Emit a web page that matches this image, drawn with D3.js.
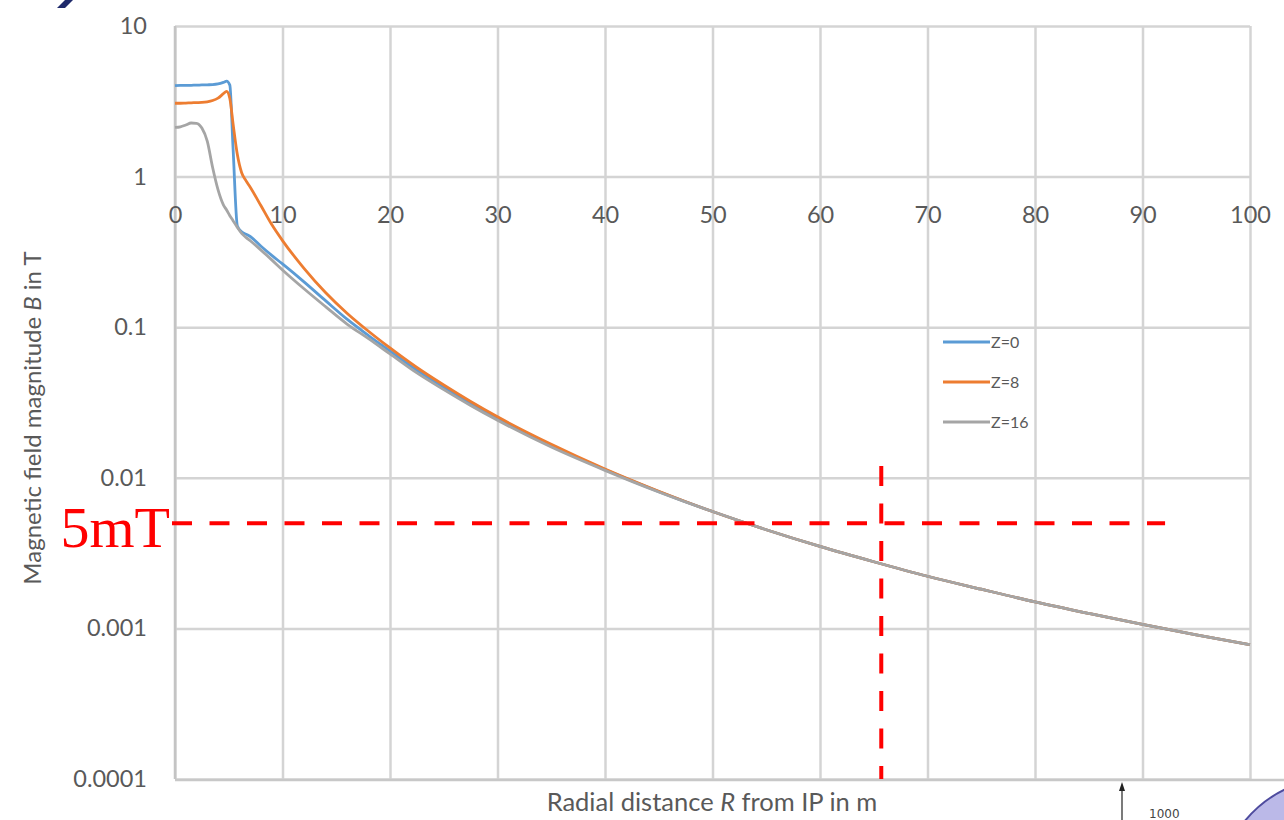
<!DOCTYPE html>
<html>
<head>
<meta charset="utf-8">
<script src="https://cdn.jsdelivr.net/npm/d3@7"></script>
<style>
  html, body { margin: 0; padding: 0; background: #ffffff; }
  svg { display: block; }
</style>
</head>
<body>
<svg id="chart" width="1284" height="820"></svg>
<script>
// Radial distance from the interaction point (m)
const radius = [0, 0.5, 1, 1.5, 2, 2.5, 3, 3.5, 4, 4.5, 4.8, 5.1, 5.4, 5.8, 6.2, 6.6, 7, 8, 9, 10,
  12, 14, 16, 18, 20, 22.5, 25, 27.5, 30, 35, 40, 45, 50, 55, 60, 65, 70, 75, 80, 85, 90, 95, 100];

// Field magnitude B (T) along the radius for three z positions
const bZ0 = [4.02, 4.03, 4.03, 4.04, 4.05, 4.06, 4.07, 4.08, 4.12, 4.22, 4.30, 4.05, 1.55, 0.47, 0.43, 0.415, 0.40, 0.345, 0.30, 0.263,
  0.200, 0.150, 0.113, 0.088, 0.0695, 0.0518, 0.0399, 0.0312, 0.0248, 0.0164, 0.01133, 0.00810,
  0.00597, 0.00452, 0.00350, 0.00277, 0.00222, 0.00182, 0.00150, 0.001257, 0.001062, 0.000906, 0.000780];
const bZ8 = [3.07, 3.07, 3.08, 3.09, 3.10, 3.11, 3.14, 3.20, 3.32, 3.55, 3.68, 3.30, 2.25, 1.40, 1.06, 0.94, 0.85, 0.64, 0.48, 0.376,
  0.246, 0.170, 0.1239, 0.0940, 0.0728, 0.0540, 0.0413, 0.0321, 0.0254, 0.0167, 0.01145, 0.00815,
  0.00597, 0.00452, 0.00350, 0.00277, 0.00222, 0.00182, 0.00150, 0.001257, 0.001062, 0.000906, 0.000780];
const bZ16 = [2.12, 2.14, 2.20, 2.27, 2.26, 2.10, 1.72, 1.15, 0.82, 0.65, 0.60, 0.55, 0.51, 0.46, 0.42, 0.395, 0.375, 0.325, 0.28, 0.240,
  0.180, 0.137, 0.105, 0.084, 0.0665, 0.0497, 0.0385, 0.0302, 0.0241, 0.0160, 0.01120, 0.00805,
  0.00597, 0.00452, 0.00350, 0.00277, 0.00222, 0.00182, 0.00150, 0.001257, 0.001062, 0.000906, 0.000780];

const seriesNames = ["Z=0", "Z=8", "Z=16"];
const seriesColors = ["#5b9bd5", "#ed7d31", "#a5a5a5"];

const xTicks = [0, 10, 20, 30, 40, 50, 60, 70, 80, 90, 100];
const yTicks = [10, 1, 0.1, 0.01, 0.001, 0.0001];
const yTickLabels = ["10", "1", "0.1", "0.01", "0.001", "0.0001"];

// 5 mT reference level and the marked radius
const limitB = 0.005;
const limitLabel = "5mT";
const markR = 65.7;
const markTopB = 0.012;
const limitEndR = 92.1;

const svg = d3.select("#chart");
const plotLeft = 175, plotRight = 1250, plotTop = 26, plotBottom = 779;
const sans = "Lato, 'Open Sans', sans-serif";

const x = d3.scaleLinear().domain([0, 100]).range([plotLeft, plotRight]);
const y = d3.scaleLog().domain([0.0001, 10]).range([plotBottom, plotTop]);

const gridColor = "#d4d4d4";

// horizontal gridlines + y tick labels
const gy = svg.append("g")
  .attr("transform", `translate(${plotLeft},0)`)
  .call(d3.axisLeft(y).tickValues(yTicks).tickSize(-(plotRight - plotLeft))
    .tickFormat((d, i) => yTickLabels[i]).tickPadding(28));
gy.select(".domain").remove();
gy.selectAll(".tick line").attr("stroke", gridColor).attr("stroke-width", 2.5);
gy.selectAll(".tick text").attr("fill", "#595959").attr("font-size", 23.5)
  .style("font-family", sans);

// vertical gridlines
const gx = svg.append("g")
  .attr("transform", `translate(0,${plotBottom})`)
  .call(d3.axisBottom(x).tickValues(xTicks).tickSize(-(plotBottom - plotTop)).tickFormat(""));
gx.select(".domain").remove();
gx.selectAll(".tick line").attr("stroke", gridColor).attr("stroke-width", 2.5);

// left axis line and bottom border
svg.append("line").attr("x1", plotLeft).attr("x2", plotLeft).attr("y1", plotTop).attr("y2", plotBottom)
  .attr("stroke", "#c4c4c4").attr("stroke-width", 2.5);
svg.append("line").attr("x1", plotLeft).attr("x2", 1284).attr("y1", plotBottom + 1).attr("y2", plotBottom + 1)
  .attr("stroke", "#c8c8c8").attr("stroke-width", 2.5);

// x tick labels sit under the B = 1 T line
const gxl = svg.append("g")
  .attr("transform", `translate(0,${y(1)})`)
  .call(d3.axisBottom(x).tickValues(xTicks).tickSize(0).tickFormat(d3.format("d")));
gxl.select(".domain").remove();
gxl.selectAll(".tick text").attr("y", 38).attr("dy", "0.35em")
  .attr("fill", "#595959").attr("font-size", 23.5).style("font-family", sans);

// curves (grey drawn last, on top)
const seriesValues = [bZ0, bZ8, bZ16];
const line = d3.line()
  .x(d => x(d[0]))
  .y(d => y(d[1]))
  .curve(d3.curveMonotoneX);

[0, 1, 2].forEach(k => {
  svg.append("path")
    .datum(radius.map((r, i) => [r, seriesValues[k][i]]))
    .attr("fill", "none")
    .attr("stroke", seriesColors[k])
    .attr("stroke-width", 2.8)
    .attr("stroke-linejoin", "round")
    .attr("d", line);
});

// legend
const legend = svg.append("g").attr("transform", "translate(943,342)");
seriesNames.forEach((name, i) => {
  const row = legend.append("g").attr("transform", `translate(0,${i * 40})`);
  row.append("line").attr("x1", 0).attr("x2", 47).attr("y1", 0).attr("y2", 0)
    .attr("stroke", seriesColors[i]).attr("stroke-width", 3);
  row.append("text").attr("x", 48).attr("y", 0).attr("dy", "0.36em")
    .attr("fill", "#595959").attr("font-size", 16).style("font-family", sans).text(name);
});

// axis titles
const yTitle = svg.append("text")
  .attr("transform", "translate(41,418) rotate(-90)")
  .attr("text-anchor", "middle")
  .attr("fill", "#595959").attr("font-size", 24).style("font-family", sans);
yTitle.append("tspan").text("Magnetic field magnitude ");
yTitle.append("tspan").attr("font-style", "italic").text("B");
yTitle.append("tspan").text(" in T");

const xTitle = svg.append("text")
  .attr("x", 712).attr("y", 811)
  .attr("text-anchor", "middle")
  .attr("fill", "#595959").attr("font-size", 25.5).style("font-family", sans);
xTitle.append("tspan").text("Radial distance ");
xTitle.append("tspan").attr("font-style", "italic").text("R");
xTitle.append("tspan").text(" from IP in m");

// 5 mT marker lines
svg.append("line")
  .attr("x1", x(0) - 3).attr("x2", x(limitEndR))
  .attr("y1", y(limitB)).attr("y2", y(limitB))
  .attr("stroke", "#ff0000").attr("stroke-width", 4)
  .attr("stroke-dasharray", "20,17.5");
svg.append("line")
  .attr("x1", x(markR)).attr("x2", x(markR))
  .attr("y1", y(markTopB)).attr("y2", y(0.0001))
  .attr("stroke", "#ff0000").attr("stroke-width", 4)
  .attr("stroke-dasharray", "20,17.5");

svg.append("text")
  .attr("x", x(0) - 5).attr("y", y(limitB) + 24)
  .attr("text-anchor", "end")
  .attr("fill", "#ff0000")
  .style("font-family", "'Liberation Serif', 'DejaVu Serif', serif")
  .attr("font-size", 58)
  .text(limitLabel);

// slide fragments around the chart
svg.append("path").attr("d", "M57,8 L65,8 L73,0 L65,0 Z").attr("fill", "#1f2a6b");
svg.append("line").attr("x1", 1122).attr("x2", 1122).attr("y1", 790).attr("y2", 820)
  .attr("stroke", "#222").attr("stroke-width", 1.2);
svg.append("path").attr("d", "M1119,791 L1125,791 L1122,782 Z").attr("fill", "#222");
svg.append("text").attr("x", 1149).attr("y", 818).attr("font-size", 12)
  .style("font-family", "'DejaVu Sans', sans-serif").attr("fill", "#444").text("1000");
svg.append("path").attr("d", "M1244,822 Q1262,800 1286,789 L1286,822 Z")
  .attr("fill", "#bbb9e8").attr("stroke", "#4e4b9e").attr("stroke-width", 2);
</script>
</body>
</html>
